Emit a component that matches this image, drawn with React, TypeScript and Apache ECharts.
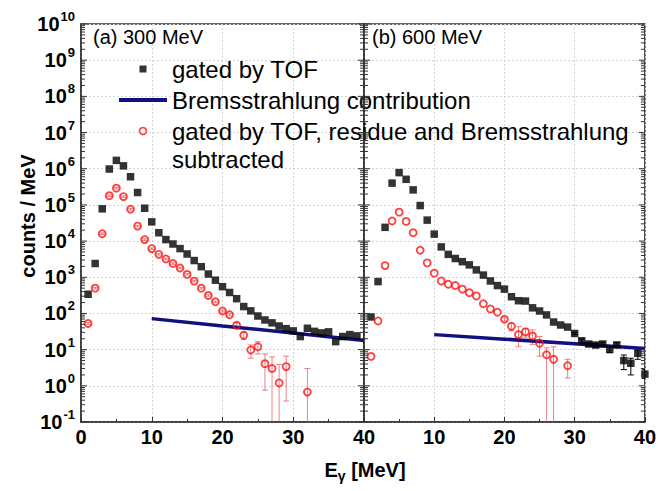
import React, { useEffect, useRef } from 'react';
import * as echarts from 'echarts';

const FONT = "'Liberation Sans', Arial, Helvetica, sans-serif";

// ---------- panel (a) 300 MeV ----------
const aTofE = [1, 2, 3, 4, 5, 6, 7, 8, 9, 10, 11, 12, 13, 14, 15, 16, 17, 18, 19, 20, 21, 22, 23, 24, 25, 26, 27, 28, 29, 30, 31, 32, 33, 34, 35, 36, 37, 38, 39];
const aTofV = [340, 2400, 78000, 980000, 1700000, 1200000, 600000, 220000, 81000, 34000, 17000, 11000, 8300, 6200, 4400, 2900, 1960, 1230, 830, 550, 380, 256, 155, 118, 85, 66, 55, 45, 38, 33, 23, 39, 32, 29, 31, 16.6, 23, 26, 24];

const aSubE = [1, 2, 3, 4, 5, 6, 7, 8, 9, 10, 11, 12, 13, 14, 15, 16, 17, 18, 19, 20, 21, 22, 23, 24, 25, 26, 27, 28, 29, 32];
const aSubV = [53, 500, 16000, 180000, 290000, 170000, 76000, 26000, 11000, 6200, 4300, 3200, 2400, 1800, 1200, 780, 500, 315, 210, 117, 92, 47, 25, 9.8, 12, 4.1, 3.0, 1.2, 3.4, 0.67];
const aSubLo = [50, 475, 15200, 171000, 276000, 162000, 72000, 24700, 10400, 5900, 4100, 3040, 2280, 1710, 1140, 740, 475, 300, 199, 110, 86, 40, 19, 5.8, 7.6, 0.76, 0.001, 0.001, 0.38, 0.001];
const aSubHi = [56, 525, 16800, 189000, 304000, 178000, 80000, 27300, 11600, 6500, 4500, 3360, 2520, 1890, 1260, 820, 525, 330, 221, 124, 98, 55, 31, 13.5, 16.6, 7.6, 6.3, 3.9, 6.6, 3.0];

const aBremE = [10, 20, 30, 40];
const aBremV = [72, 45, 29, 18];

// ---------- panel (b) 600 MeV ----------
const bTofE = [1, 2, 3, 4, 5, 6, 7, 8, 9, 10, 11, 12, 13, 14, 15, 16, 17, 18, 19, 20, 21, 22, 23, 24, 25, 26, 27, 28, 29, 30, 31, 32, 33, 34, 35, 36, 37, 38, 39, 40];
const bTofV = [80, 760, 24000, 400000, 780000, 510000, 260000, 96000, 38000, 15600, 6900, 4300, 3300, 2700, 2200, 1600, 1150, 790, 590, 470, 290, 225, 220, 143, 117, 91, 58, 48, 42, 28, 17.6, 14.3, 13.4, 14.3, 10.2, 13.5, 5.0, 4.2, 7.9, 2.1];
const bTofErrE = [30, 31, 32, 33, 34, 35, 36, 37, 38, 39, 40];
const bTofErrLo = [26, 15.5, 12.5, 11.8, 12.5, 8.2, 11.5, 2.8, 2.0, 5.4, 1.6];
const bTofErrHi = [30, 19.5, 16, 15, 16, 12, 15.5, 7.1, 5.8, 9.8, 2.8];

const bSubE = [1, 2, 3, 4, 5, 6, 7, 8, 9, 10, 11, 12, 13, 14, 15, 16, 17, 18, 19, 20, 21, 22, 23, 24, 25, 26, 27, 29];
const bSubV = [6.5, 62, 2100, 36000, 63000, 35000, 17000, 5600, 2500, 1300, 790, 640, 590, 470, 375, 305, 186, 133, 108, 69, 44, 26, 31, 24, 15, 7.2, 5.4, 3.6];
const bSubErrE = [20, 21, 22, 23, 24, 25, 26, 27, 29];
const bSubErrLo = [62, 33, 12, 22, 14, 6.6, 0.001, 0.001, 1.66];
const bSubErrHi = [76, 54, 43, 39, 35, 23, 11.2, 12, 5.4];

const bBremE = [10, 20, 30, 40];
const bBremV = [26, 19.5, 14.5, 10.7];

// ---------- axes ----------
const xMin = 0;
const xMax = 40;
const xInterval = 10;
const yMin = 0.1;
const yMax = 1e10;
const yLogInterval = 1;
const minorMultipliers = [2, 3, 4, 5, 6, 7, 8, 9];
const decadeExponents = [-1, 0, 1, 2, 3, 4, 5, 6, 7, 8, 9];

const NAME_TOF = 'gated by TOF';
const NAME_BREM = 'Bremsstrahlung contribution';
const NAME_SUB = 'gated by TOF, residue and Bremsstrahlung';

const AXIS_COLOR = '#333333';
const RED = '#ff1010';
const NAVY = '#10107f';

const pairs = (xs: number[], ys: number[]) => xs.map((x, i) => [x, ys[i]]);
const triples = (xs: number[], lo: number[], hi: number[]) => xs.map((x, i) => [x, lo[i], hi[i]]);

const minorTickData = decadeExponents.flatMap((d) =>
  minorMultipliers.map((k) => [xMin, k * Math.pow(10, d)])
);
const majorTickData = [...decadeExponents, 10].map((d) => [xMin, Math.pow(10, d)]);

function errorRender(color: string, cap: number) {
  return (_params: any, api: any) => {
    const x = api.value(0);
    const lo = api.value(1);
    const hi = api.value(2);
    const pHi = api.coord([x, hi]);
    const pLo = api.coord([x, lo]);
    const style = { stroke: color, lineWidth: 1 };
    return {
      type: 'group',
      children: [
        { type: 'line', shape: { x1: pHi[0], y1: pHi[1], x2: pLo[0], y2: pLo[1] }, style },
        { type: 'line', shape: { x1: pHi[0] - cap, y1: pHi[1], x2: pHi[0] + cap, y2: pHi[1] }, style },
        { type: 'line', shape: { x1: pLo[0] - cap, y1: pLo[1], x2: pLo[0] + cap, y2: pLo[1] }, style },
      ],
    };
  };
}

function edgeTickRender(len: number) {
  return (_params: any, api: any) => {
    const v = api.value(1);
    const pL = api.coord([xMin, v]);
    const pR = api.coord([xMax, v]);
    const style = { stroke: AXIS_COLOR, lineWidth: 1 };
    return {
      type: 'group',
      children: [
        { type: 'line', shape: { x1: pL[0], y1: pL[1], x2: pL[0] + len, y2: pL[1] }, style },
        { type: 'line', shape: { x1: pR[0] - len, y1: pR[1], x2: pR[0], y2: pR[1] }, style },
      ],
    };
  };
}

const splitLine = { show: true, lineStyle: { color: '#d4d4d4', type: [2, 2] as any, width: 1 } };

function makeX(gridIndex: number, showMin: boolean) {
  return {
    type: 'value',
    gridIndex,
    min: xMin,
    max: xMax,
    interval: xInterval,
    axisLine: { show: true, lineStyle: { color: AXIS_COLOR, width: 1.5 } },
    axisTick: { show: true, inside: true, length: 5, lineStyle: { color: AXIS_COLOR } },
    minorTick: { show: true, splitNumber: 2, length: 3, lineStyle: { color: AXIS_COLOR } },
    splitLine,
    axisLabel: {
      show: true,
      showMinLabel: showMin,
      margin: 5,
      color: '#000',
      fontFamily: FONT,
      fontWeight: 'bold',
      fontSize: 20,
    },
  };
}

function makeY(gridIndex: number, labels: boolean) {
  return {
    type: 'log',
    logBase: 10,
    gridIndex,
    position: 'left',
    min: yMin,
    max: yMax,
    interval: yLogInterval,
    axisLine: { show: true, lineStyle: { color: AXIS_COLOR, width: 1.5 } },
    axisTick: { show: false },
    splitLine,
    axisLabel: {
      show: labels,
      margin: 6,
      formatter: (v: number) => '{b|10}{s|' + Math.round(Math.log10(v)) + '}',
      rich: {
        b: { fontFamily: FONT, fontWeight: 'bold', fontSize: 20, color: '#000' },
        s: { fontFamily: FONT, fontWeight: 'bold', fontSize: 13, color: '#000', padding: [0, 0, 15, 1] },
      },
    },
  };
}

export default function App() {
  const ref = useRef<HTMLDivElement>(null);

  useEffect(() => {
    if (!ref.current) return;
    const chart = echarts.init(ref.current, undefined, { renderer: 'svg' });

    const scatterTof = (xi: number, yi: number, data: number[][]) => ({
      name: NAME_TOF,
      type: 'scatter',
      xAxisIndex: xi,
      yAxisIndex: yi,
      symbol: 'rect',
      symbolSize: 7.5,
      itemStyle: { color: '#000' },
      data,
      z: 4,
    });
    const scatterSub = (xi: number, yi: number, data: number[][]) => ({
      name: NAME_SUB,
      type: 'scatter',
      xAxisIndex: xi,
      yAxisIndex: yi,
      symbol: 'circle',
      symbolSize: 7,
      itemStyle: { color: 'rgba(255,255,255,0)', borderColor: RED, borderWidth: 1.8 },
      data,
      z: 5,
    });
    const brem = (xi: number, yi: number, data: number[][]) => ({
      name: NAME_BREM,
      type: 'line',
      xAxisIndex: xi,
      yAxisIndex: yi,
      symbol: 'none',
      lineStyle: { color: NAVY, width: 3.5 },
      itemStyle: { color: NAVY },
      data,
      z: 3,
    });
    const errors = (xi: number, yi: number, data: number[][], color: string) => ({
      type: 'custom',
      xAxisIndex: xi,
      yAxisIndex: yi,
      clip: true,
      silent: true,
      encode: { x: 0, y: [1, 2] },
      renderItem: errorRender(color, 3),
      data,
      z: 2,
    });
    const edgeTicks = (xi: number, yi: number, data: number[][], len: number) => ({
      type: 'custom',
      xAxisIndex: xi,
      yAxisIndex: yi,
      clip: false,
      silent: true,
      encode: { x: 0, y: 1 },
      renderItem: edgeTickRender(len),
      data,
      z: 6,
    });

    const option: any = {
      animation: false,
      backgroundColor: '#ffffff',
      grid: [
        { left: 81, top: 24, width: 283, height: 398, show: true, borderColor: AXIS_COLOR, borderWidth: 1.5, backgroundColor: 'transparent' },
        { left: 364, top: 24, width: 285, height: 398, show: true, borderColor: AXIS_COLOR, borderWidth: 1.5, backgroundColor: 'transparent' },
      ],
      xAxis: [makeX(0, true), makeX(1, false)],
      yAxis: [makeY(0, true), makeY(1, false)],
      legend: {
        left: 119,
        top: 56,
        orient: 'vertical',
        padding: 0,
        itemWidth: 48,
        itemHeight: 7,
        itemGap: 5,
        selectedMode: false,
        symbolKeepAspect: true,
        textStyle: { fontFamily: FONT, fontSize: 24, color: '#000', lineHeight: 26 },
        data: [
          { name: NAME_TOF, icon: 'path://M0 0H7V7H0Z', itemStyle: { color: '#000' } },
          { name: NAME_BREM, icon: 'path://M0 0H48V4H0Z', itemStyle: { color: NAVY } },
          { name: NAME_SUB, icon: 'circle', itemStyle: { color: '#fff', borderColor: RED, borderWidth: 1.6 } },
        ],
      },
      graphic: [
        {
          type: 'text',
          left: 93,
          top: 27,
          style: { text: '(a) 300 MeV', fontFamily: FONT, fontSize: 20, fill: '#000' },
          z: 10,
        },
        {
          type: 'text',
          left: 372,
          top: 27,
          style: { text: '(b) 600 MeV', fontFamily: FONT, fontSize: 20, fill: '#000' },
          z: 10,
        },
        {
          type: 'text',
          x: 172,
          y: 159,
          style: { text: 'subtracted', fontFamily: FONT, fontSize: 24, fill: '#000', verticalAlign: 'middle', align: 'left' },
          z: 10,
        },
        {
          type: 'text',
          x: 28,
          y: 216,
          rotation: Math.PI / 2,
          style: { text: 'counts / MeV', fontFamily: FONT, fontSize: 20, fontWeight: 'bold', fill: '#000', align: 'center', verticalAlign: 'middle' },
        },
        {
          type: 'text',
          x: 365,
          y: 470,
          style: {
            text: '{b|E}{g|γ}{b| [MeV]}',
            align: 'center',
            verticalAlign: 'middle',
            rich: {
              b: { fontFamily: FONT, fontSize: 20, fontWeight: 'bold', fill: '#000' },
              g: { fontFamily: FONT, fontSize: 14, fontWeight: 'bold', fill: '#000', padding: [12, 0, 0, 0] },
            },
          },
        },
      ],
      series: [
        edgeTicks(0, 0, minorTickData, 4),
        edgeTicks(1, 1, minorTickData, 4),
        edgeTicks(0, 0, majorTickData, 6),
        edgeTicks(1, 1, majorTickData, 6),
        errors(0, 0, triples(aSubE, aSubLo, aSubHi), 'rgba(225,80,80,0.7)'),
        errors(1, 1, triples(bSubErrE, bSubErrLo, bSubErrHi), 'rgba(225,80,80,0.7)'),
        errors(1, 1, triples(bTofErrE, bTofErrLo, bTofErrHi), '#000'),
        brem(0, 0, pairs(aBremE, aBremV)),
        brem(1, 1, pairs(bBremE, bBremV)),
        scatterTof(0, 0, pairs(aTofE, aTofV)),
        scatterTof(1, 1, pairs(bTofE, bTofV)),
        scatterSub(0, 0, pairs(aSubE, aSubV)),
        scatterSub(1, 1, pairs(bSubE, bSubV)),
      ],
    };

    chart.setOption(option);
    return () => chart.dispose();
  }, []);

  return (
    <div
      ref={ref}
      style={{ position: 'absolute', left: 0, top: 0, width: 659, height: 491, background: '#fff' }}
    />
  );
}
